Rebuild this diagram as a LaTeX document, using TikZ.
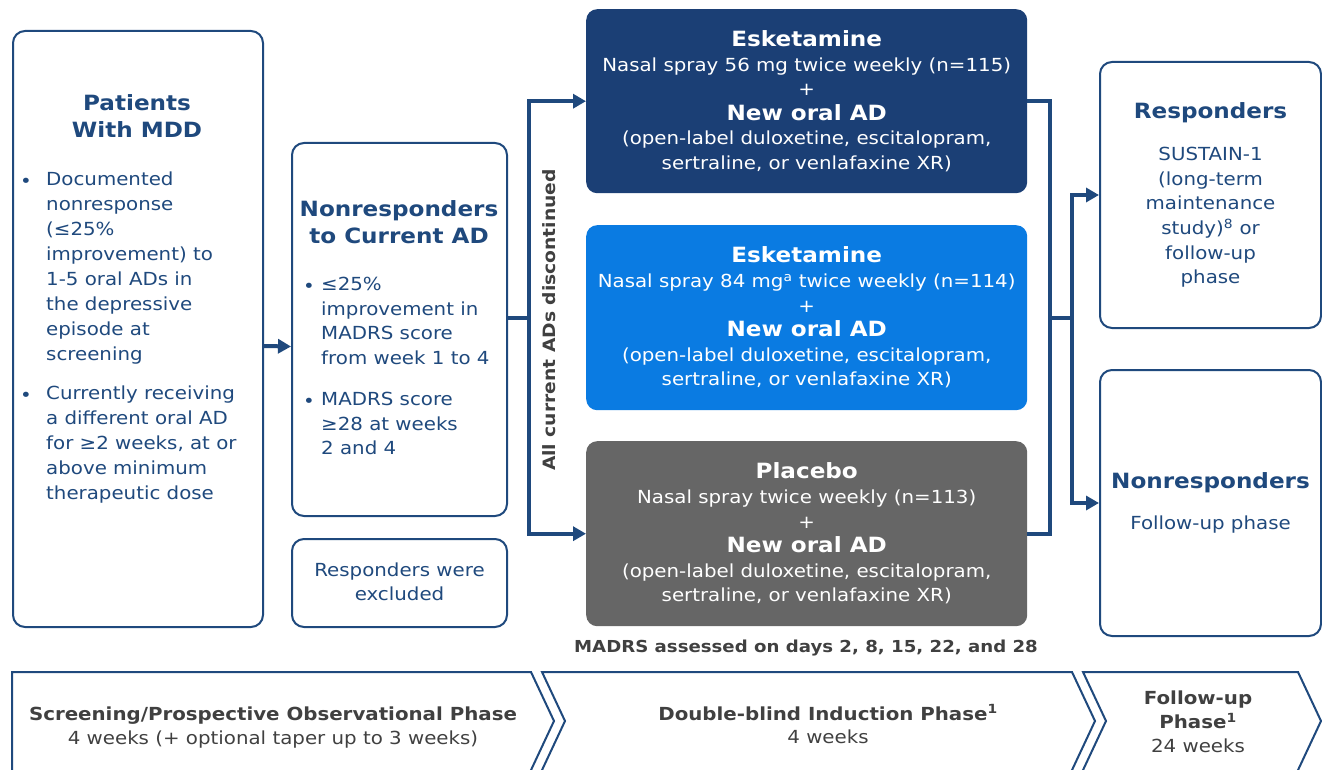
\documentclass[tikz,border=0pt]{standalone}
\usepackage{fontspec}
\setmainfont{DejaVu Sans}[FakeStretch=1.1]
\usetikzlibrary{arrows.meta,calc}
\definecolor{navy}{HTML}{1F497D}
\definecolor{dblue}{HTML}{1B3F75}
\definecolor{bblue}{HTML}{0A7BE2}
\definecolor{gbox}{HTML}{666666}
\definecolor{dgray}{HTML}{404040}
\newcommand{\fsB}{\bfseries\fontsize{21}{27}\selectfont}
\newcommand{\fsR}{\fontsize{18}{24.6}\selectfont}
\newcommand{\fsL}{\fontsize{18}{25}\selectfont}
\begin{document}
\begin{tikzpicture}[x=1pt,y=-1pt,
  wbox/.style={draw=navy,line width=2pt,rounded corners=12pt,fill=white,anchor=north west,inner sep=0pt},
  tbox/.style={rounded corners=11pt,anchor=north west,inner sep=0pt,text=white,align=center,font=\fsR,minimum width=441pt,minimum height=184pt},
  btext/.style={text=navy,font=\fsL,align=left,anchor=north west,inner sep=0pt},
  bul/.style={text=navy,font=\fsR,inner sep=0pt},
  conn/.style={draw=navy,line width=4pt},
  arr/.style={conn,-{Triangle[length=13pt,width=14pt]}},
  chev/.style={draw=navy,line width=2pt,line join=miter},
  ptext/.style={text=dgray,align=center,inner sep=0pt,font=\fontsize{18}{24}\selectfont}
]
\useasboundingbox (0,0) rectangle (1322,770);

% left boxes
\node[wbox,minimum width=250pt,minimum height=596pt] (pat) at (12,30) {};
\node[text=navy,font=\fsB,align=center,inner sep=0pt] (patT) at (137,116) {Patients\\With MDD};
\node[bul] (pb1) at (26,183) {\textbullet};
\node[btext] (pt1) at (46,172) {Documented\\nonresponse\\(≤25\%\\improvement) to\\1-5 oral ADs in\\the depressive\\episode at\\screening};
\node[bul] (pb2) at (26,397) {\textbullet};
\node[btext] (pt2) at (46,386) {Currently receiving\\a different oral AD\\for ≥2 weeks, at or\\above minimum\\therapeutic dose};

\node[wbox,minimum width=215pt,minimum height=373pt] (nr) at (291,142) {};
\node[text=navy,font=\fsB,align=center,inner sep=0pt] (nrT) at (399,222) {Nonresponders\\to Current AD};
\node[bul] (nb1) at (309,288) {\textbullet};
\node[btext,font=\fsR] (nt1) at (321,277) {≤25\%\\improvement in\\MADRS score\\from week 1 to 4};
\node[bul] (nb2) at (309,403) {\textbullet};
\node[btext,font=\fsR] (nt2) at (321,392) {MADRS score\\≥28 at weeks\\2 and 4};

\node[wbox,minimum width=215pt,minimum height=88pt,align=center,text=navy,font=\fsR] (ex) at (291,538) {\raisebox{3pt}{Responders were}\\\raisebox{3pt}{excluded}};

% treatment boxes
\node[tbox,fill=dblue] (t1) at (586,9) {{\fsB Esketamine}\\Nasal spray 56 mg twice weekly (n=115)\\+\\{\fsB New oral AD}\\(open-label duloxetine, escitalopram,\\sertraline, or venlafaxine XR)};
\node[tbox,fill=bblue,minimum height=185pt] (t2) at (586,225) {{\fsB Esketamine}\\Nasal spray 84 mg\textsuperscript{a} twice weekly (n=114)\\+\\{\fsB New oral AD}\\(open-label duloxetine, escitalopram,\\sertraline, or venlafaxine XR)};
\node[tbox,fill=gbox,minimum height=185pt] (t3) at (586,441) {{\fsB Placebo}\\Nasal spray twice weekly (n=113)\\+\\{\fsB New oral AD}\\(open-label duloxetine, escitalopram,\\sertraline, or venlafaxine XR)};

\node[rotate=90,text=dgray,font=\bfseries\fontsize{17}{20}\selectfont,inner sep=0pt] (disc) at (549,320) {All current ADs discontinued};

% right boxes
\node[wbox,minimum width=221pt,minimum height=266pt,align=center,text=navy,font=\fsR] (resp) at (1099,61) {{\fsB Responders}\\[17.5pt]SUSTAIN-1\\(long-term\\maintenance\\study)\textsuperscript{8} or\\follow-up\\phase};
\node[wbox,minimum width=221pt,minimum height=266pt,align=center,text=navy,font=\fsR] (nresp) at (1099,369) {{\fsB Nonresponders}\\[16.5pt]Follow-up phase};

\node[text=dgray,font=\bfseries\fontsize{16.5}{18}\selectfont,inner sep=0pt] (madrs) at (806,648) {MADRS assessed on days 2, 8, 15, 22, and 28};

% connectors
\draw[arr] ([yshift=-17pt]pat.east) -- ([yshift=-17pt]nr.west);
\draw[conn] ([yshift=11.5pt]nr.east) -- ++(21,0) coordinate (sp1);
\draw[arr] ($(sp1)+(0,2)$) |- (t1.west);
\draw[arr] ($(sp1)+(0,-2)$) |- (t3.west);
\draw[conn] (t1.east) -- ++(23,0) coordinate (rr) |- (t3.east);
\draw[conn] (rr |- t2.east) -- ++(22,0) coordinate (sp2);
\draw[arr] ($(sp2)+(0,2)$) |- (resp.west);
\draw[arr] ($(sp2)+(0,-2)$) |- (nresp.west);

% phase chevrons
\draw[chev] (12,772) -- (12,672) -- (531,672) -- (554,721) -- (530.1,772);
\draw[chev] (541.1,772) -- (565,721) -- (542,672) -- (1072,672) -- (1095,721) -- (1071.1,772);
\draw[chev] (1082.1,772) -- (1106,721) -- (1083,672) -- (1298,672) -- (1321,721) -- (1297.1,772);
\node[ptext] (ph1) at (273,728) {{\bfseries Screening/Prospective Observational Phase}\\4 weeks (+ optional taper up to 3 weeks)};
\node[ptext,font=\fontsize{18}{23}\selectfont] (ph2) at (828,724) {{\bfseries Double-blind Induction Phase\textsuperscript{1}}\\4 weeks};
\node[ptext] (ph3) at (1198,722) {{\bfseries Follow-up}\\{\bfseries Phase\textsuperscript{1}}\\24 weeks};
\end{tikzpicture}
\end{document}
